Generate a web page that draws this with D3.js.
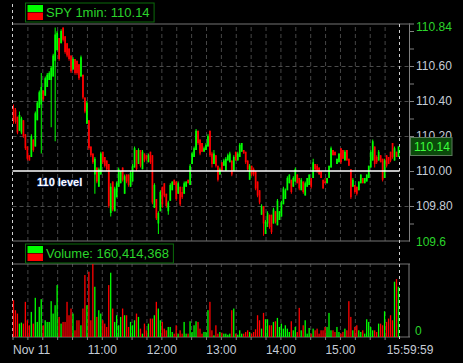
<!DOCTYPE html>
<html>
<head>
<script src="https://cdn.jsdelivr.net/npm/d3@7"></script>
<style>
  body { margin: 0; background: #000; }
  svg text { font-family: "Liberation Sans", Arial, sans-serif; }
</style>
</head>
<body>
<script>

// 2-minute candles, 9:30 to 16:00
var opens = [110.36,110.35,110.31,110.23,110.22,110.29,110.21,110.14,110.09,110.08,
  110.18,110.14,110.29,110.36,110.38,110.46,110.43,110.48,110.52,110.52,
  110.54,110.63,110.69,110.76,110.73,110.82,110.77,110.73,110.70,110.66,
  110.58,110.64,110.63,110.61,110.54,110.55,110.42,110.27,110.29,110.14,
  110.10,109.98,110.02,109.91,109.98,110.11,110.08,110.06,110.04,109.76,
  109.94,109.77,109.85,109.91,109.93,110.02,109.87,109.98,109.98,109.91,
  109.94,110.02,110.12,110.04,110.12,110.01,110.10,110.09,110.05,110.11,
  110.09,109.79,109.84,109.70,109.77,109.91,109.93,109.87,109.77,109.83,
  109.89,109.95,109.94,109.87,109.91,109.88,109.87,109.91,109.95,109.92,
  110.04,110.08,110.12,110.23,110.18,110.16,110.11,110.12,110.14,110.23,
  110.10,110.04,110.09,110.03,109.98,110.05,110.03,110.00,110.06,110.05,
  110.06,110.00,110.11,110.06,110.08,110.11,110.12,110.11,110.06,109.95,
  110.03,110.01,110.00,109.94,109.89,109.75,109.80,109.64,109.70,109.75,
  109.75,109.70,109.77,109.69,109.72,109.74,109.81,109.84,109.89,109.93,
  109.95,109.91,109.94,109.98,109.96,109.89,109.94,109.86,109.91,109.92,
  109.96,109.96,110.04,110.03,110.02,110.00,109.95,109.94,109.93,109.96,
  110.02,110.12,110.11,110.04,110.05,110.13,110.12,110.06,110.12,110.07,
  110.01,109.91,109.92,109.91,109.89,109.93,109.96,109.93,109.94,109.96,
  110.02,110.06,110.14,110.08,110.06,110.09,110.07,109.96,110.09,110.08,
  110.11,110.16,110.06,110.11,110.08];
var highs = [110.38,110.36,110.31,110.34,110.31,110.29,110.21,110.14,110.09,110.21,
  110.18,110.34,110.40,110.46,110.56,110.46,110.54,110.56,110.57,110.60,
  110.67,110.82,110.80,110.76,110.81,110.82,110.77,110.73,110.70,110.66,
  110.65,110.64,110.63,110.61,110.66,110.55,110.42,110.40,110.29,110.14,
  110.10,110.08,110.02,110.02,110.11,110.11,110.08,110.06,110.04,109.93,
  109.94,109.91,109.94,110.02,110.00,110.02,109.98,109.98,109.98,110.00,
  110.04,110.14,110.12,110.13,110.12,110.12,110.10,110.09,110.10,110.11,
  110.09,109.93,109.84,109.77,109.89,109.91,109.93,109.87,109.83,109.93,
  109.94,109.95,109.94,109.94,109.91,109.91,109.94,109.94,109.95,110.04,
  110.11,110.14,110.24,110.23,110.18,110.16,110.14,110.16,110.21,110.23,
  110.11,110.12,110.09,110.03,110.02,110.05,110.07,110.08,110.10,110.11,
  110.06,110.09,110.11,110.11,110.16,110.16,110.12,110.11,110.06,110.04,
  110.03,110.02,110.00,109.94,109.89,109.81,109.80,109.72,109.77,109.75,
  109.75,109.79,109.77,109.84,109.77,109.83,109.91,109.90,109.97,109.98,
  109.95,109.97,110.02,109.98,109.96,109.96,109.94,109.94,109.96,109.98,
  109.96,110.07,110.04,110.04,110.02,110.00,109.95,109.96,109.96,110.03,
  110.14,110.12,110.11,110.07,110.10,110.13,110.12,110.12,110.12,110.07,
  110.01,109.96,109.92,109.91,109.94,109.98,109.96,109.96,109.98,110.03,
  110.12,110.18,110.14,110.09,110.12,110.09,110.07,110.07,110.09,110.08,
  110.11,110.16,110.14,110.11,110.14];
var lows = [110.27,110.27,110.21,110.23,110.21,110.19,110.12,110.06,110.06,110.08,
  110.11,110.14,110.29,110.36,110.10,110.40,110.43,110.48,110.52,110.25,
  110.54,110.17,110.69,110.63,110.73,110.74,110.67,110.65,110.63,110.56,
  110.58,110.55,110.55,110.52,110.54,110.41,110.33,110.27,110.12,110.08,
  110.04,109.87,109.93,109.91,109.98,110.04,110.02,110.00,109.79,109.74,
  109.77,109.77,109.85,109.91,109.93,109.94,109.87,109.93,109.91,109.91,
  109.94,110.02,110.00,110.04,110.02,110.01,110.05,110.06,110.05,110.04,
  109.81,109.79,109.72,109.64,109.77,109.79,109.85,109.79,109.75,109.83,
  109.89,109.92,109.83,109.87,109.80,109.84,109.87,109.91,109.93,109.92,
  110.04,110.08,110.12,110.15,110.09,110.11,110.11,110.12,110.14,110.08,
  110.02,110.04,110.02,109.94,109.98,110.00,110.03,110.00,110.06,110.05,
  109.97,110.00,110.06,110.06,110.08,110.11,110.10,110.04,110.00,109.95,
  109.97,109.97,109.89,109.85,109.81,109.75,109.63,109.64,109.68,109.67,
  109.64,109.70,109.70,109.69,109.72,109.74,109.81,109.84,109.89,109.93,
  109.87,109.91,109.94,109.93,109.89,109.89,109.87,109.86,109.91,109.92,
  109.90,109.96,110.00,109.99,109.98,109.96,109.90,109.93,109.93,109.96,
  110.02,110.09,110.09,110.04,110.05,110.04,110.07,110.06,110.06,110.03,
  109.84,109.91,109.87,109.86,109.89,109.93,109.93,109.93,109.94,109.96,
  110.02,110.06,110.02,110.04,110.06,110.05,109.94,109.96,110.02,110.04,
  110.05,110.07,110.06,110.08,110.08];
var closes = [110.29,110.28,110.22,110.32,110.30,110.20,110.13,110.07,110.06,110.20,
  110.12,110.33,110.39,110.45,110.48,110.41,110.53,110.55,110.56,110.59,
  110.66,110.78,110.79,110.64,110.80,110.75,110.68,110.66,110.64,110.57,
  110.64,110.56,110.56,110.53,110.65,110.42,110.34,110.39,110.13,110.09,
  110.05,110.07,109.94,110.01,110.10,110.05,110.03,110.01,109.80,109.91,
  109.78,109.90,109.93,110.01,110.00,109.95,109.97,109.94,109.92,109.99,
  110.03,110.13,110.01,110.12,110.03,110.11,110.06,110.07,110.09,110.05,
  109.82,109.92,109.73,109.76,109.88,109.81,109.86,109.80,109.82,109.92,
  109.94,109.92,109.84,109.93,109.81,109.85,109.93,109.94,109.93,110.03,
  110.10,110.13,110.23,110.16,110.10,110.11,110.13,110.15,110.20,110.09,
  110.04,110.10,110.03,109.95,110.01,110.00,110.06,110.07,110.09,110.10,
  109.98,110.08,110.06,110.10,110.15,110.16,110.10,110.05,110.01,110.03,
  109.98,109.98,109.90,109.86,109.82,109.80,109.70,109.71,109.76,109.68,
  109.65,109.78,109.71,109.83,109.77,109.82,109.90,109.89,109.96,109.98,
  109.88,109.96,110.01,109.93,109.90,109.95,109.88,109.93,109.96,109.98,
  109.91,110.05,110.01,110.00,109.98,109.96,109.90,109.93,109.96,110.03,
  110.13,110.09,110.09,110.07,110.10,110.05,110.07,110.11,110.06,110.03,
  109.85,109.95,109.88,109.87,109.94,109.98,109.93,109.96,109.98,110.03,
  110.11,110.17,110.04,110.05,110.11,110.05,109.95,110.06,110.03,110.04,
  110.06,110.08,110.13,110.08,110.14];
var volumes = [2200000,1600000,1400000,800000,860000,800000,2100000,1000000,700000,1500000,
  800000,2340000,900000,1800000,2260000,700000,1000000,900000,900000,2140000,
  1400000,1900000,3100000,1200000,800000,900000,900000,2100000,1300000,1700000,
  1400000,400000,1000000,1000000,700000,1700000,3700000,1900000,3900000,1000000,
  4360000,3000000,1200000,1600000,1400000,1000000,800000,600000,3100000,3840000,
  1700000,900000,1300000,700000,1200000,1700000,1300000,1300000,600000,900000,
  700000,1000000,1400000,1200000,500000,200000,800000,400000,800000,1100000,
  1100000,1300000,2100000,1700000,1000000,900000,500000,400000,600000,600000,
  300000,200000,700000,200000,400000,200000,900000,200000,200000,940000,
  300000,700000,940000,900000,500000,200000,300000,300000,1600000,2100000,
  400000,100000,700000,200000,300000,260000,200000,200000,140000,200000,
  1600000,1700000,200000,140000,400000,200000,200000,300000,400000,300000,
  200000,300000,460000,1300000,1000000,500000,1440000,1060000,1060000,700000,
  700000,900000,940000,1140000,600000,800000,500000,700000,500000,300000,
  940000,400000,600000,300000,1740000,400000,700000,1000000,200000,540000,
  200000,500000,400000,500000,200000,400000,400000,600000,600000,1440000,
  400000,400000,300000,600000,300000,200000,300000,500000,400000,2140000,
  1200000,400000,600000,700000,400000,300000,400000,200000,1060000,900000,
  600000,400000,400000,300000,800000,800000,700000,1540000,900000,1100000,
  1300000,1000000,3300000,3460000,3000000];

var totalVolume = 160414368;
var levelPrice = 110.00;
var priceLabels = [110.6, 110.4, 110.2, 110.0, 109.8];
var xTickLabels = ["Nov 11", "11:00", "12:00", "13:00", "14:00", "15:00", "15:59:59"];

var W = 463, H = 363;
var left = 12.5, right = 409;
var green = "#00ff00", red = "#ff0000";
var axisText = "#c5ccd6", legendGreen = "#2bd42b";

var start = new Date(2009, 10, 11, 9, 30);
var end = new Date(2009, 10, 11, 16, 0);
var times = opens.map(function(d, i) { return d3.timeMinute.offset(start, 2 * i); });
var gridTimes = d3.timeMinute.every(15).range(d3.timeMinute.offset(start, 15), end);
var labelTimes = [start].concat(d3.timeHour.every(1).range(new Date(2009, 10, 11, 11), end), [end]);

var x = d3.scaleTime().domain([start, end]).range([left, 399.5]);
var yP = d3.scaleLinear().domain([109.6, 110.84]).range([241, 24]);
var yV = d3.scaleLinear().domain([0, d3.max(volumes)]).range([337, 264]);

var svg = d3.select("body").append("svg")
  .attr("width", W).attr("height", H)
  .style("background", "#000");

function colorOf(i) { return closes[i] >= opens[i] ? green : red; }

// vertical grid, both panels
[[241, 217], [337, 73]].forEach(function(p) {
  var g = svg.append("g").attr("transform", "translate(0," + p[0] + ")")
    .call(d3.axisBottom(x).tickValues(gridTimes).tickSize(-p[1]).tickFormat(""));
  g.select(".domain").remove();
  g.selectAll("line").attr("stroke", "#464646").attr("stroke-dasharray", "4,3");
});

// horizontal grid
var hg = svg.append("g").attr("transform", "translate(" + left + ",0)")
  .call(d3.axisLeft(yP).tickValues([110.6, 110.4, 110.2, 109.8]).tickSize(-(right - left)).tickFormat(""));
hg.select(".domain").remove();
hg.selectAll("line").attr("stroke", "#4b4b4b").attr("stroke-dasharray", "4,3");

// panel borders
[24, 241, 264, 337].forEach(function(y) {
  svg.append("line").attr("x1", left).attr("x2", right + 1).attr("y1", y).attr("y2", y)
    .attr("stroke", "#747474");
});

// session boundaries
svg.append("line").attr("x1", x(start)).attr("x2", x(start)).attr("y1", 4).attr("y2", 340)
  .attr("stroke", "#d0d0d0").attr("stroke-dasharray", "3,3");
svg.append("line").attr("x1", x(end)).attr("x2", x(end)).attr("y1", 24).attr("y2", 340)
  .attr("stroke", "#d0d0d0").attr("stroke-dasharray", "3,3");

// candles
var idx = d3.range(opens.length);
var cg = svg.append("g");
cg.selectAll("line").data(idx).join("line")
  .attr("x1", function(i) { return x(times[i]) + 1; })
  .attr("x2", function(i) { return x(times[i]) + 1; })
  .attr("y1", function(i) { return yP(highs[i]); })
  .attr("y2", function(i) { return yP(lows[i]); })
  .attr("stroke", colorOf).attr("stroke-width", 1);
cg.selectAll("rect").data(idx).join("rect")
  .attr("x", function(i) { return x(times[i]) + 0.15; })
  .attr("width", 1.7)
  .attr("y", function(i) { return yP(Math.max(opens[i], closes[i])); })
  .attr("height", function(i) {
    return Math.max(1, yP(Math.min(opens[i], closes[i])) - yP(Math.max(opens[i], closes[i])));
  })
  .attr("fill", colorOf);

// 110 level
svg.append("line").attr("x1", left).attr("x2", x(end)).attr("y1", yP(levelPrice)).attr("y2", yP(levelPrice))
  .attr("stroke", "#fff").attr("stroke-width", 1.5);
svg.append("text").attr("x", 37).attr("y", 186)
  .attr("fill", "#fff").attr("font-size", 11).attr("font-weight", "bold")
  .attr("stroke", "#1d3d8a").attr("stroke-width", 0.8).attr("paint-order", "stroke")
  .text("110 level");

// volume bars
svg.append("g").selectAll("rect").data(idx).join("rect")
  .attr("x", function(i) { return x(times[i]) + 0.3; })
  .attr("width", 1.3)
  .attr("y", function(i) { return yV(volumes[i]); })
  .attr("height", function(i) { return 337 - yV(volumes[i]); })
  .attr("fill", colorOf);

// right price axis
var minor = svg.append("g").attr("transform", "translate(" + right + ",0)")
  .call(d3.axisRight(yP).tickValues(d3.range(1097, 1109).map(function(d) { return d / 10; }))
    .tickSize(5).tickSizeOuter(0).tickFormat(""));
minor.select(".domain").attr("stroke", "#808080");
minor.selectAll("line").attr("stroke", "#808080");

var lab = svg.append("g").attr("transform", "translate(" + right + ",0)")
  .call(d3.axisRight(yP).tickValues(priceLabels).tickSize(5).tickPadding(2).tickFormat(d3.format(".2f")));
lab.select(".domain").remove();
lab.selectAll("line").attr("stroke", "#808080");
lab.selectAll("text").attr("fill", axisText).attr("font-size", 12).attr("font-family", null);

svg.append("line").attr("x1", right).attr("x2", right + 5).attr("y1", 24).attr("y2", 24).attr("stroke", "#808080");
svg.append("text").attr("x", 416).attr("y", 30.5).attr("fill", legendGreen).attr("font-size", 12)
  .text(d3.format(".2f")(yP.domain()[1]));
svg.append("text").attr("x", 416).attr("y", 245.5).attr("fill", legendGreen).attr("font-size", 12)
  .text(yP.domain()[0]);

// last price box (sits over the 110.20 label, as in the source)
var last = closes[closes.length - 1];
svg.append("rect").attr("x", 410.5).attr("y", yP(last) - 9).attr("width", 41.5).attr("height", 18)
  .attr("fill", "#0b4a0b").attr("stroke", "#5c7a5c");
svg.append("text").attr("x", 414).attr("y", yP(last) + 4.5).attr("fill", "#3cff3c").attr("font-size", 12)
  .text(d3.format(".2f")(last));

// volume axis
svg.append("line").attr("x1", right).attr("x2", right).attr("y1", 264).attr("y2", 337).attr("stroke", "#808080");
svg.append("text").attr("x", 415).attr("y", yV(0) - 2.5).attr("fill", legendGreen).attr("font-size", 12).text("0");

// time axis
var ta = svg.append("g").attr("transform", "translate(0,337)")
  .call(d3.axisBottom(x).tickValues([start].concat(gridTimes)).tickSize(3).tickFormat(""));
ta.select(".domain").remove();
ta.selectAll("line").attr("stroke", "#808080");

var tl = svg.append("g").attr("transform", "translate(0,337)")
  .call(d3.axisBottom(x).tickValues(labelTimes).tickSize(0).tickPadding(8)
    .tickFormat(function(d, i) { return xTickLabels[i]; }));
tl.select(".domain").remove();
tl.selectAll("text").attr("fill", axisText).attr("font-size", 12).attr("font-family", null);
tl.selectAll(".tick").filter(function(d, i) { return i === 0; }).select("text").attr("text-anchor", "start");
tl.selectAll(".tick").filter(function(d, i) { return i === labelTimes.length - 1; }).select("text").attr("dx", 10);

// legends
function legend(y, label) {
  var g = svg.append("g").attr("transform", "translate(25," + y + ")");
  var t = g.append("text").attr("x", 21).attr("y", 14.5).attr("fill", legendGreen).attr("font-size", 13).text(label);
  var w = t.node().getComputedTextLength() + 25;
  g.insert("rect", "text").attr("x", 0.5).attr("y", 0.5).attr("width", w).attr("height", 19)
    .attr("fill", "#000").attr("stroke", "#0b6b0b");
  g.append("rect").attr("x", 2.5).attr("y", 2.5).attr("width", 15.5).attr("height", 7).attr("fill", green);
  g.append("rect").attr("x", 2.5).attr("y", 10).attr("width", 15.5).attr("height", 7.5).attr("fill", red);
}
legend(2.5, "SPY 1min: " + d3.format(".2f")(last));
legend(243.5, "Volume: " + d3.format(",")(totalVolume));

</script>
</body>
</html>
